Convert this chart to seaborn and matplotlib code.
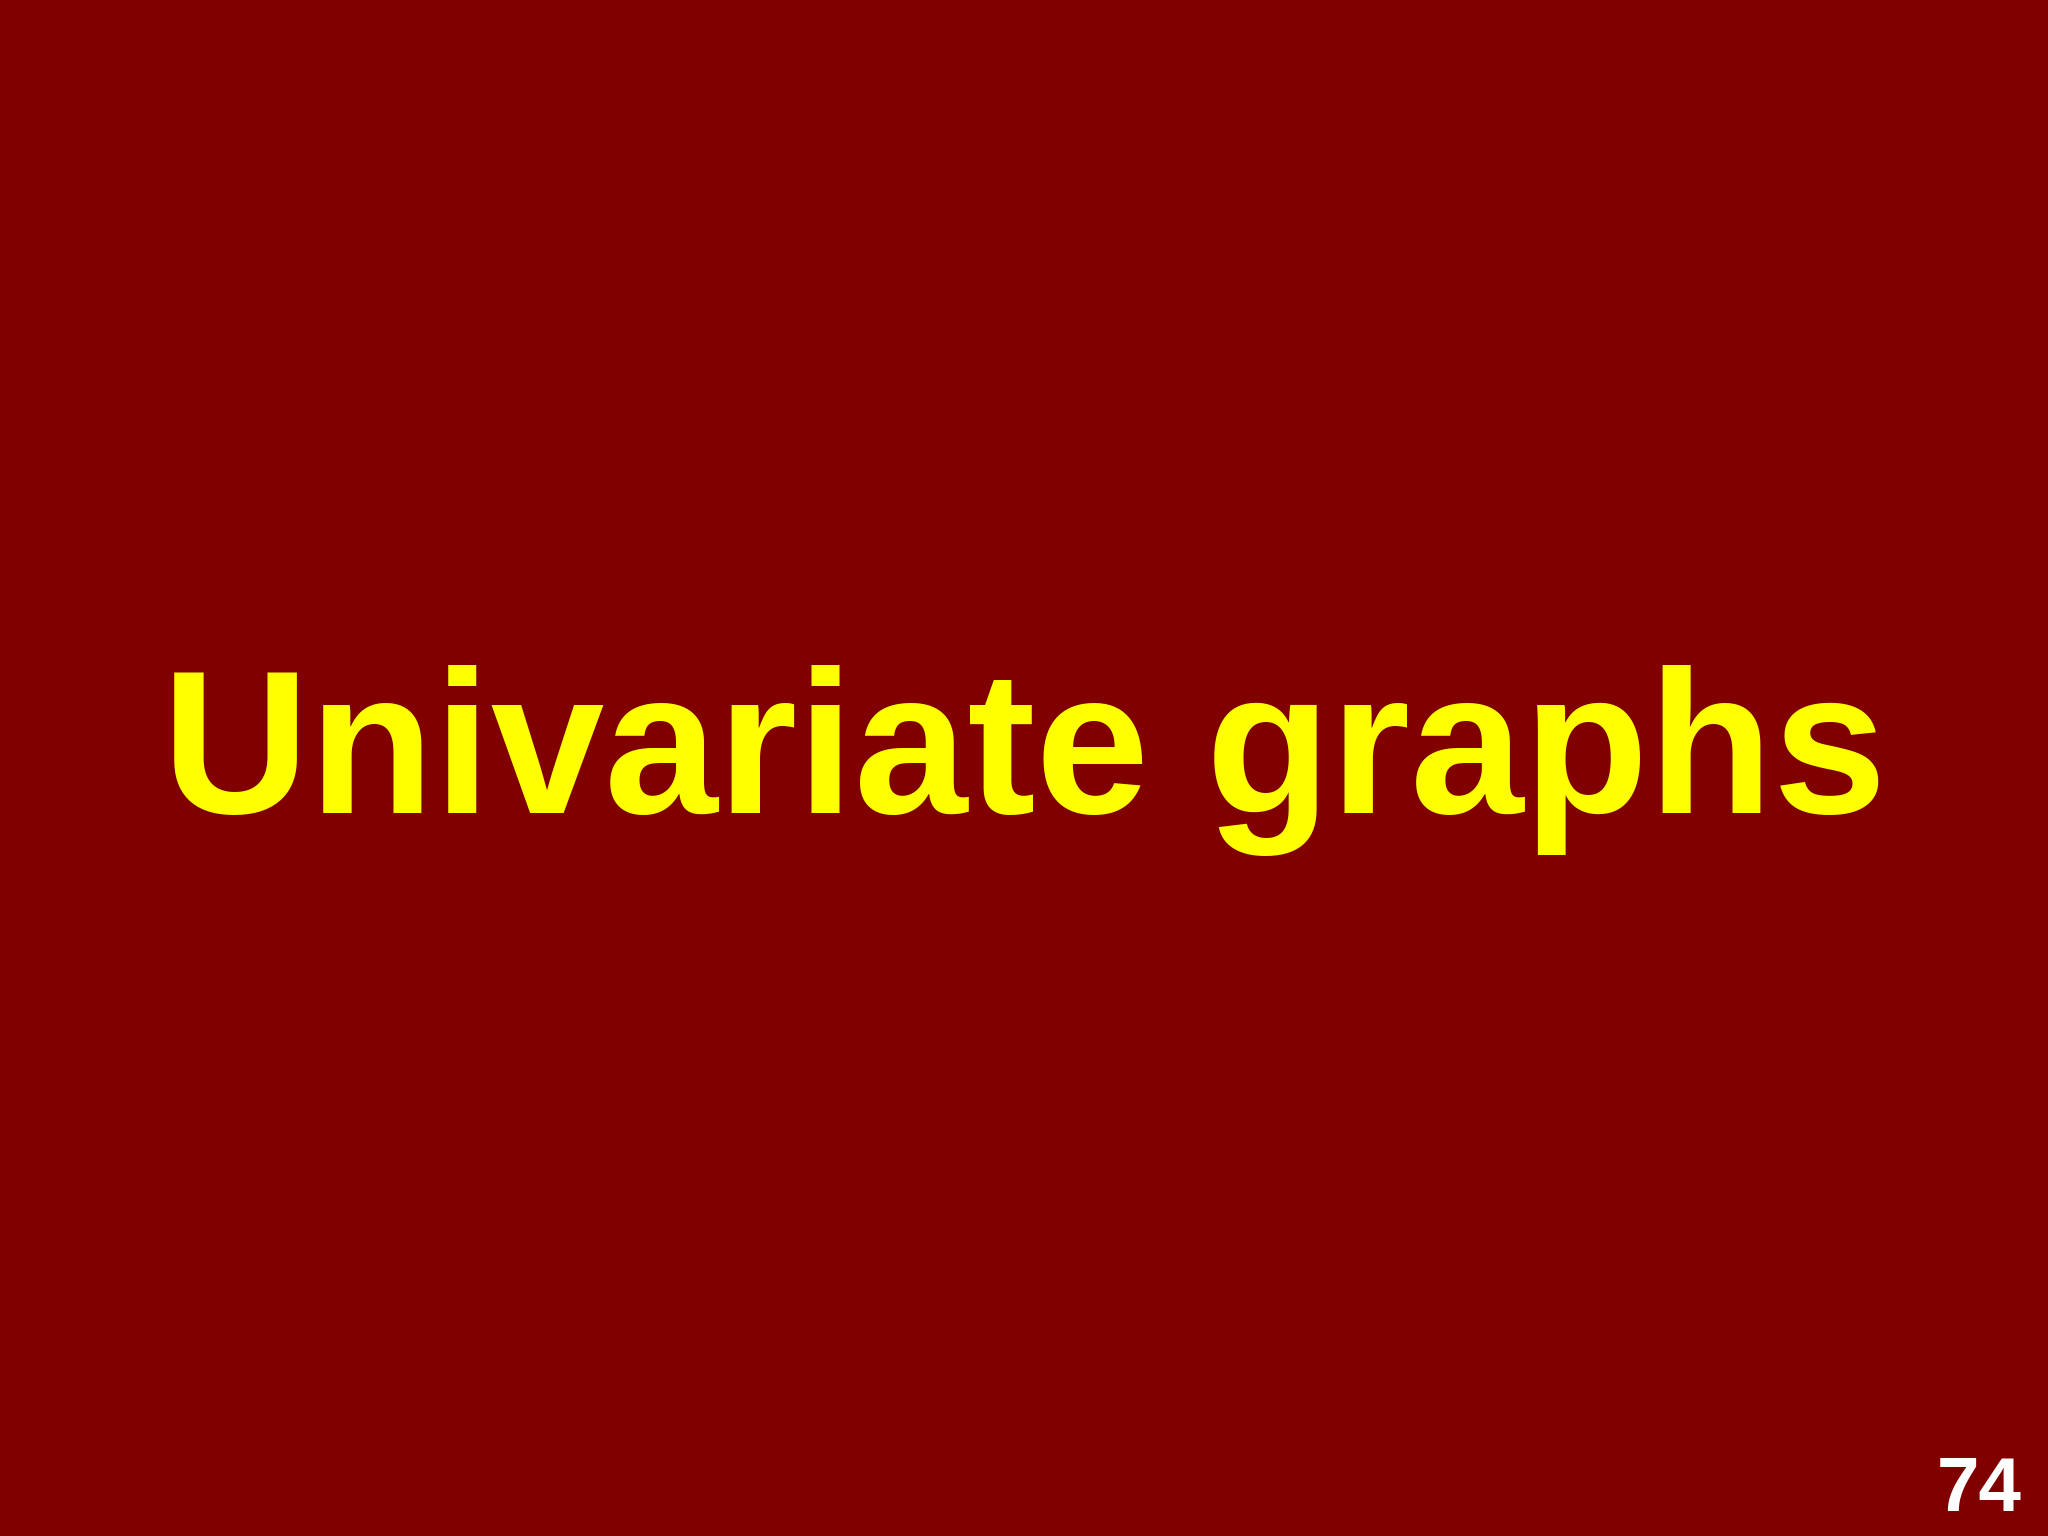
import matplotlib
matplotlib.use("Agg")
import matplotlib.pyplot as plt
import seaborn as sns

# slide content
title_text = "Univariate graphs"
page_number = "74"

bg_color = "#800000"
title_color = "#FFFF00"
number_color = "#FFFFFF"

sns.set_theme(style="white")
plt.rcParams['font.family'] = ['Liberation Sans', 'DejaVu Sans']

fig = plt.figure(figsize=(20.48, 15.36), dpi=100)
fig.patch.set_facecolor(bg_color)
ax = fig.add_axes([0, 0, 1, 1])
ax.set_facecolor(bg_color)
ax.set_xlim(0, 1)
ax.set_ylim(0, 1)
ax.axis("off")

# big centred title
ax.text(0.5, 0.4707, title_text, color=title_color, fontsize=147,
        fontweight="bold", ha="center", va="baseline")
# slide number, bottom right
ax.text(0.9455, 0.0163, page_number, color=number_color, fontsize=55,
        fontweight="bold", ha="left", va="baseline")

fig.savefig("out.png", dpi=100, facecolor=bg_color)
